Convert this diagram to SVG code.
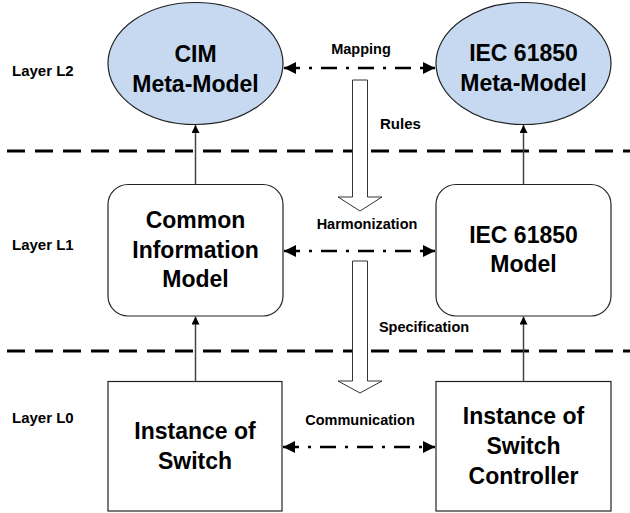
<svg xmlns="http://www.w3.org/2000/svg" width="630" height="513" viewBox="0 0 630 513">
<defs>
<style>
.node{fill:#fff;stroke:#222;stroke-width:1.2}
.ell{fill:#c6d9f1;stroke:#222;stroke-width:1.2}
.nt{font-family:"Liberation Sans",Arial,sans-serif;font-weight:bold;font-size:23px;fill:#000;text-anchor:middle}
.lt{font-family:"Liberation Sans",Arial,sans-serif;font-weight:bold;font-size:15px;fill:#000}
.ct{font-family:"Liberation Sans",Arial,sans-serif;font-weight:bold;font-size:14.5px;fill:#000;text-anchor:middle}
.layer{stroke:#000;stroke-width:3;stroke-dasharray:18 10;fill:none}
.dd{stroke:#000;stroke-width:2.5;stroke-dasharray:16 9 3 9;fill:none}
.v{stroke:#444;stroke-width:1.5;fill:none}
.blk{fill:#fff;stroke:#333;stroke-width:1}
</style>
<marker id="ah" viewBox="0 0 10 10" refX="10" refY="5" markerWidth="12" markerHeight="12" markerUnits="userSpaceOnUse" orient="auto-start-reverse">
<path d="M0,0 L10,5 L0,10 z" fill="#000"/>
</marker>
<marker id="sh" viewBox="0 0 10 10" refX="10" refY="5" markerWidth="8" markerHeight="8" markerUnits="userSpaceOnUse" orient="auto">
<path d="M0,0 L10,5 L0,10 z" fill="#000"/>
</marker>
</defs>

<g id="layer-lines">
<line class="layer" x1="7" y1="151" x2="630" y2="151"/>
<line class="layer" x1="7" y1="351" x2="630" y2="351"/>
</g>

<g id="layer-labels">
<text class="lt" x="12" y="76">Layer L2</text>
<text class="lt" x="12" y="250">Layer L1</text>
<text class="lt" x="12" y="423">Layer L0</text>
</g>

<g id="cim-meta">
<ellipse class="ell" cx="195.5" cy="63.5" rx="87.5" ry="61"/>
<text class="nt" x="195.5" y="62">CIM</text>
<text class="nt" x="195.5" y="92">Meta-Model</text>
</g>

<g id="iec-meta">
<ellipse class="ell" cx="523.5" cy="63.5" rx="87.5" ry="61"/>
<text class="nt" x="523.5" y="61">IEC 61850</text>
<text class="nt" x="523.5" y="91">Meta-Model</text>
</g>

<g id="cim-model">
<rect class="node" x="108" y="184.5" width="175" height="131.5" rx="20" ry="20"/>
<text class="nt" x="195.5" y="228">Common</text>
<text class="nt" x="195.5" y="258">Information</text>
<text class="nt" x="195.5" y="287">Model</text>
</g>

<g id="iec-model">
<rect class="node" x="436" y="184.5" width="175" height="131.5" rx="20" ry="20"/>
<text class="nt" x="523.5" y="243">IEC 61850</text>
<text class="nt" x="523.5" y="272">Model</text>
</g>

<g id="switch">
<rect class="node" x="108" y="381.5" width="174" height="129.5"/>
<text class="nt" x="195" y="439">Instance of</text>
<text class="nt" x="195" y="469">Switch</text>
</g>

<g id="switch-controller">
<rect class="node" x="436" y="381.5" width="175" height="129.5"/>
<text class="nt" x="523.5" y="424">Instance of</text>
<text class="nt" x="523.5" y="454">Switch</text>
<text class="nt" x="523.5" y="484">Controller</text>
</g>

<g id="connectors">
<line class="v" x1="195.5" y1="184.5" x2="195.5" y2="125" marker-end="url(#sh)"/>
<line class="v" x1="523.5" y1="184.5" x2="523.5" y2="125" marker-end="url(#sh)"/>
<line class="v" x1="195.5" y1="381.5" x2="195.5" y2="316.5" marker-end="url(#sh)"/>
<line class="v" x1="523.5" y1="381.5" x2="523.5" y2="316.5" marker-end="url(#sh)"/>
<line class="dd" x1="284" y1="68" x2="435" y2="68" marker-start="url(#ah)" marker-end="url(#ah)"/>
<line class="dd" x1="284" y1="251" x2="435" y2="251" marker-start="url(#ah)" marker-end="url(#ah)"/>
<line class="dd" x1="283" y1="447" x2="435" y2="447" marker-start="url(#ah)" marker-end="url(#ah)"/>
<path class="blk" d="M352.5,80 H367.5 V197 H382 L360,211 L338,197 H352.5 Z"/>
<path class="blk" d="M352.5,261 H367.5 V381 H382 L360,393 L338,381 H352.5 Z"/>
</g>

<g id="connector-labels">
<text class="ct" x="361" y="54" font-size="15">Mapping</text>
<text class="lt" x="380" y="129">Rules</text>
<text class="ct" x="367" y="229">Harmonization</text>
<text class="ct" x="424" y="332">Specification</text>
<text class="ct" x="360" y="425">Communication</text>
</g>
</svg>
